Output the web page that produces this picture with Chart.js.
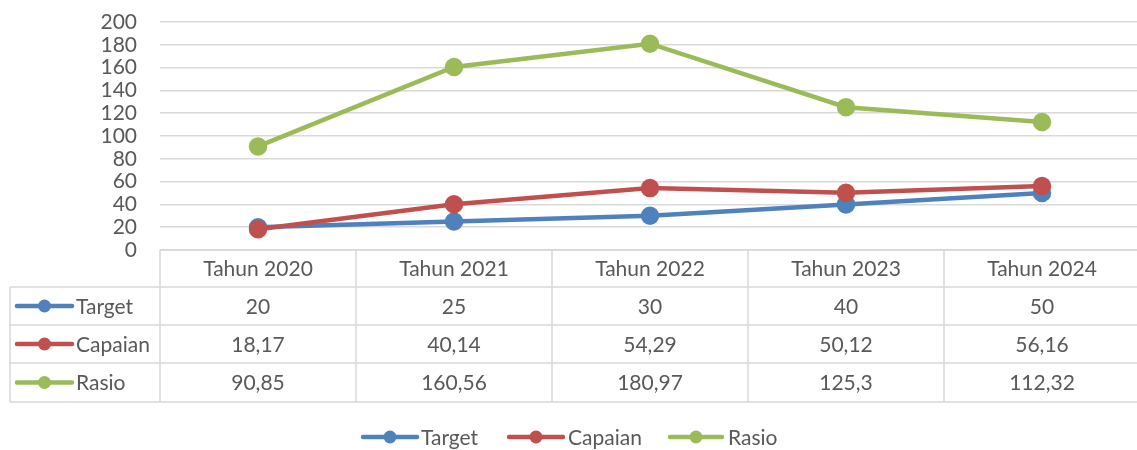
<!DOCTYPE html>
<html><head><meta charset="utf-8">
<script src="https://cdn.jsdelivr.net/npm/chart.js@4.4.1/dist/chart.umd.min.js"></script>
<style>html,body{margin:0;padding:0;background:#fff;overflow:hidden}#wrap{width:1140px;height:450px;position:relative}</style>
</head><body><div id="wrap"><canvas id="c"></canvas></div>
<script>
const categories = ["Tahun 2020","Tahun 2021","Tahun 2022","Tahun 2023","Tahun 2024"];
const seriesNames = ["Target","Capaian","Rasio"];
const targetValues = [20,25,30,40,50];
const capaianValues = [18.17,40.14,54.29,50.12,56.16];
const rasioValues = [90.85,160.56,180.97,125.3,112.32];
const tableLabels = [
  ["20","25","30","40","50"],
  ["18,17","40,14","54,29","50,12","56,16"],
  ["90,85","160,56","180,97","125,3","112,32"]
];
const colors = ["#4F81BD","#C0504D","#9BBB59"];
const FONT = "Lato, 'Open Sans', sans-serif";
const TXT = "#595959";
const GRID = "#D9D9D9";

function ds(label, data, color, order){
  return {label, data, borderColor: color, backgroundColor: color, pointBackgroundColor: color,
    pointBorderColor: color, borderWidth: 4.5, pointRadius: 7, pointHoverRadius: 7, tension: 0, order};
}

const tablePlugin = {
  id: 'tablePlugin',
  afterDraw(chart){
    const ctx = chart.ctx;
    const x = chart.scales.x;
    const area = chart.chartArea;
    const n = categories.length;
    const colW = (area.right - area.left) / n;
    const top = area.bottom;
    const rows = [top, top+37, top+75, top+113, top+152];
    const leftX = 10;
    ctx.save();
    ctx.strokeStyle = GRID; ctx.lineWidth = 1.5;
    ctx.beginPath();
    ctx.moveTo(area.left, rows[0]); ctx.lineTo(area.right, rows[0]);
    for (let r=1;r<rows.length;r++){ ctx.moveTo(leftX, rows[r]); ctx.lineTo(area.right, rows[r]); }
    ctx.moveTo(leftX, rows[1]); ctx.lineTo(leftX, rows[4]);
    for (let i=0;i<=n;i++){ const vx = area.left + i*colW; ctx.moveTo(vx, rows[0]); ctx.lineTo(vx, rows[4]); }
    ctx.stroke();
    ctx.fillStyle = TXT; ctx.font = "21px " + FONT; ctx.textAlign = "center"; ctx.textBaseline = "middle";
    categories.forEach((c,i)=>{ ctx.fillText(c, x.getPixelForValue(i), (rows[0]+rows[1])/2 + 1); });
    for (let s=0;s<3;s++){
      const cy = (rows[s+1]+rows[s+2])/2 + 1;
      tableLabels[s].forEach((t,i)=>{ ctx.fillText(t, x.getPixelForValue(i), cy); });
      drawKey(ctx, 17, 72, cy-1, colors[s]);
      ctx.textAlign = "left"; ctx.fillStyle = TXT;
      ctx.fillText(seriesNames[s], 76, cy);
      ctx.textAlign = "center";
    }
    const ly = 437;
    const items = [[363,417,421],[509,563,568],[670,722,728]];
    for (let s=0;s<3;s++){
      drawKey(ctx, items[s][0], items[s][1], ly, colors[s]);
      ctx.fillStyle = TXT; ctx.textAlign = "left";
      ctx.fillText(seriesNames[s], items[s][2], ly+1);
    }
    ctx.restore();
  }
};
function drawKey(ctx, x1, x2, y, color){
  ctx.save();
  ctx.strokeStyle = color; ctx.lineWidth = 4.5; ctx.lineCap = "round";
  ctx.beginPath(); ctx.moveTo(x1, y); ctx.lineTo(x2, y); ctx.stroke();
  ctx.fillStyle = color; ctx.beginPath(); ctx.arc((x1+x2)/2, y, 6.5, 0, Math.PI*2); ctx.fill();
  ctx.restore();
}

new Chart(document.getElementById('c'), {
  type: 'line',
  data: { labels: categories, datasets: [
    ds(seriesNames[0], targetValues, colors[0], 3),
    ds(seriesNames[1], capaianValues, colors[1], 2),
    ds(seriesNames[2], rasioValues, colors[2], 1)
  ]},
  options: {
    responsive: true, maintainAspectRatio: false, animation: false,
    layout: { autoPadding: false, padding: { top: 22, bottom: 200, left: 0, right: 0 } },
    plugins: { legend: { display: false }, tooltip: { enabled: false } },
    scales: {
      x: { display: false, offset: true },
      y: { min: 0, max: 200,
        ticks: { stepSize: 20, autoSkip: false, color: TXT, font: { family: FONT, size: 21 }, padding: 23 },
        grid: { color: GRID, lineWidth: 1.5, drawTicks: false },
        border: { display: false },
        afterFit(scale){ scale.width = 160; scale.paddingTop = 0; scale.paddingBottom = 0; } }
    }
  },
  plugins: [tablePlugin]
});
</script></body></html>
